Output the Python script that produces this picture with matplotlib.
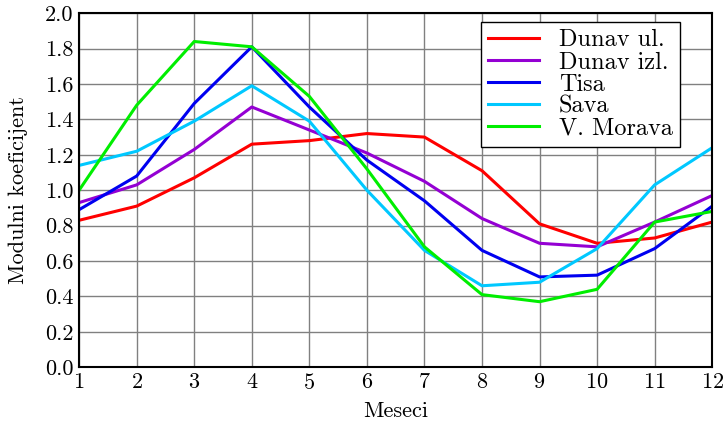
import matplotlib
matplotlib.use('Agg')
import matplotlib.pyplot as plt

plt.rcParams['font.family'] = 'serif'
plt.rcParams['font.serif'] = ['cmr10']
plt.rcParams['mathtext.fontset'] = 'cm'
plt.rcParams['axes.formatter.use_mathtext'] = True

# monthly modular coefficients per river
months = list(range(1, 13))
dunav_ul = [0.83, 0.91, 1.07, 1.26, 1.28, 1.32, 1.30, 1.11, 0.81, 0.70, 0.73, 0.82]
dunav_izl = [0.93, 1.03, 1.23, 1.47, 1.34, 1.21, 1.05, 0.84, 0.70, 0.68, 0.82, 0.97]
tisa = [0.89, 1.08, 1.49, 1.81, 1.47, 1.17, 0.94, 0.66, 0.51, 0.52, 0.67, 0.91]
sava = [1.14, 1.22, 1.39, 1.59, 1.39, 1.00, 0.66, 0.46, 0.48, 0.67, 1.03, 1.24]
v_morava = [1.00, 1.48, 1.84, 1.81, 1.53, 1.12, 0.68, 0.41, 0.37, 0.44, 0.82, 0.88]

series = [
    (dunav_ul, 'Dunav ul.', '#ff0000'),
    (dunav_izl, 'Dunav izl.', '#9400d3'),
    (tisa, 'Tisa', '#0000f0'),
    (sava, 'Sava', '#00c8ff'),
    (v_morava, 'V. Morava', '#00ee00'),
]

fig = plt.figure(figsize=(7.26, 4.25), dpi=100)
ax = fig.add_axes([0.109, 0.136, 0.872, 0.833])

for vals, label, color in series:
    ax.plot(months, vals, color=color, lw=2.2, label=label, zorder=3)

ax.set_xlim(1, 12)
ax.set_ylim(0, 2.0)
ax.set_xticks(months)
ax.set_yticks([i / 10 for i in range(0, 21, 2)])
ax.set_yticklabels([f'{i / 10:.1f}' for i in range(0, 21, 2)])
ax.grid(True, color='#808080', lw=1.0)
ax.tick_params(direction='in', length=0, labelsize=16, pad=4)
for s in ax.spines.values():
    s.set_linewidth(1.5)
    s.set_zorder(4)

ax.set_xlabel('Meseci', fontsize=16, labelpad=6)
ax.set_ylabel('Modulni koeficijent', fontsize=16, labelpad=12)

leg = ax.legend(loc='upper right', bbox_to_anchor=(0.949, 0.975), fontsize=17.5,
                fancybox=False, framealpha=1, edgecolor='black',
                handlelength=2.1, labelspacing=0.0, borderpad=0.3,
                handletextpad=0.8, borderaxespad=0)
leg.get_frame().set_linewidth(1.0)

fig.savefig('out.png', dpi=100)
